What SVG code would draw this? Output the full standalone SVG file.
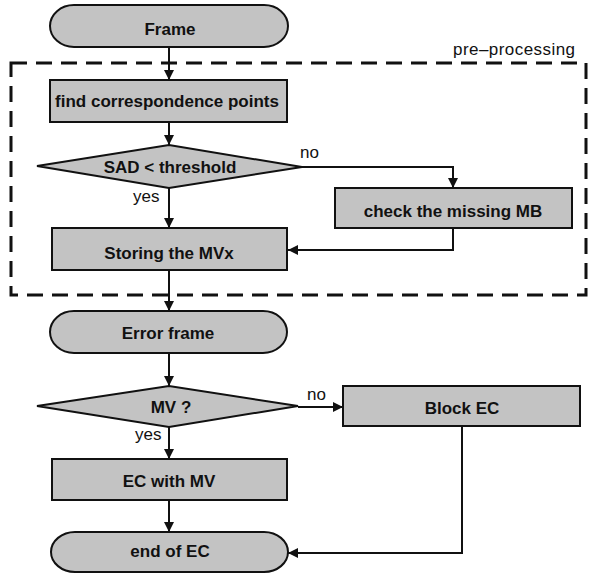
<svg xmlns="http://www.w3.org/2000/svg" width="589" height="573" viewBox="0 0 589 573">
<style>
.box{fill:#c3c3c3;stroke:#111;stroke-width:2}
.lbl{font-family:"Liberation Sans",Arial,sans-serif;font-size:17px;font-weight:bold;fill:#111;text-anchor:middle}
.note{font-family:"Liberation Sans",Arial,sans-serif;font-size:17px;fill:#111}
.conn{fill:none;stroke:#111;stroke-width:2}
</style>
<defs>
<marker id="arr" viewBox="0 0 10 10" refX="10" refY="5" markerWidth="10" markerHeight="10" markerUnits="userSpaceOnUse" orient="auto">
<path d="M0,0 L10,5 L0,10 z" fill="#111"/>
</marker>
</defs>
<rect id="preprocessing" x="11" y="63" width="575" height="232" fill="none" stroke="#111" stroke-width="3" stroke-dasharray="16 9"/>
<text class="note" x="453" y="55" textLength="122" lengthAdjust="spacing">pre–processing</text>
<g id="connectors">
<path class="conn" d="M169,47 V80" marker-end="url(#arr)"/>
<path class="conn" d="M169,122 V145" marker-end="url(#arr)"/>
<path class="conn" d="M302,167 H453 V188" marker-end="url(#arr)"/>
<path class="conn" d="M169,188 V228" marker-end="url(#arr)"/>
<path class="conn" d="M453,228 V250 H288" marker-end="url(#arr)"/>
<path class="conn" d="M169,270 V311" marker-end="url(#arr)"/>
<path class="conn" d="M169,353 V386" marker-end="url(#arr)"/>
<path class="conn" d="M298,407 H343" marker-end="url(#arr)"/>
<path class="conn" d="M169,427 V459" marker-end="url(#arr)"/>
<path class="conn" d="M169,500 V532" marker-end="url(#arr)"/>
<path class="conn" d="M462,426 V553 H288" marker-end="url(#arr)"/>
<text class="note" x="300" y="158">no</text>
<text class="note" x="133" y="202">yes</text>
<text class="note" x="307" y="400">no</text>
<text class="note" x="135" y="440">yes</text>
</g>
<g id="frame"><rect class="box" x="50" y="5" width="238" height="42" rx="24" ry="21"/><text class="lbl" x="170" y="35">Frame</text></g>
<g id="find"><rect class="box" x="50" y="80" width="237" height="42"/><text class="lbl" x="167" y="107">find correspondence points</text></g>
<g id="sad"><polygon class="box" points="37,166 169,145 302,167 169,188"/><text class="lbl" x="170" y="173">SAD &lt; threshold</text></g>
<g id="check"><rect class="box" x="335" y="188" width="237" height="40"/><text class="lbl" x="453" y="217">check the missing MB</text></g>
<g id="storing"><rect class="box" x="52" y="228" width="235" height="42"/><text class="lbl" x="169" y="259">Storing the MVx</text></g>
<g id="errorframe"><rect class="box" x="50" y="311" width="237" height="42" rx="24" ry="21"/><text class="lbl" x="168" y="339">Error frame</text></g>
<g id="mv"><polygon class="box" points="37,406 169,386 298,406 169,427"/><text class="lbl" x="171" y="413">MV ?</text></g>
<g id="blockec"><rect class="box" x="343" y="386" width="237" height="40"/><text class="lbl" x="462" y="414">Block EC</text></g>
<g id="ecwithmv"><rect class="box" x="52" y="459" width="235" height="41"/><text class="lbl" x="169" y="487">EC with MV</text></g>
<g id="endofec"><rect class="box" x="51" y="532" width="237" height="40" rx="24" ry="20"/><text class="lbl" x="170" y="557">end of EC</text></g>
</svg>
